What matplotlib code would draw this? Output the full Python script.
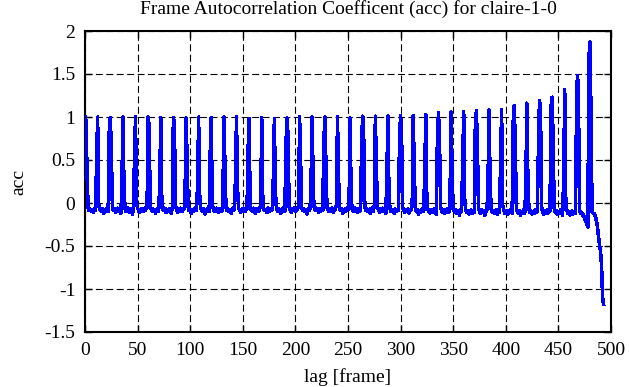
import numpy as np
import matplotlib
matplotlib.use("Agg")
import matplotlib.pyplot as plt

# ── Style ──────────────────────────────────────────────────────────────────
plt.rcParams["font.family"] = ["Liberation Serif", "DejaVu Serif"]
plt.rcParams["axes.unicode_minus"] = False
plt.rcParams["lines.scale_dashes"] = False

BLUE  = "#0000FF"
BLACK = "#000000"

TITLE  = "Frame Autocorrelation Coefficent (acc) for claire-1-0"
XLABEL = "lag [frame]"
YLABEL = "acc"

X_TICKS = [0, 50, 100, 150, 200, 250, 300, 350, 400, 450, 500]
Y_TICKS = [-1.5, -1, -0.5, 0, 0.5, 1, 1.5, 2]
Y_TICK_LABELS = ["-1.5", "-1", "-0.5", "0", "0.5", "1", "1.5", "2"]

# ── Data: acc per lag, one row per 12-frame period (row starts at the peak) ─
acc = [
    1.00, 0.95, 0.32, -0.06, -0.09, -0.07, -0.10, -0.08, -0.11, -0.07, -0.09, 0.49,
    1.00, -0.02, -0.08, -0.06, -0.10, -0.07, -0.12, -0.08, -0.09, -0.06, -0.10, 0.82,
    0.99, 0.65, -0.04, -0.09, -0.07, -0.11, -0.08, -0.06, -0.10, -0.08, -0.12, 0.14,
    1.00, 0.26, -0.07, -0.10, -0.08, -0.06, -0.11, -0.09, -0.07, -0.13, -0.08, 0.51,
    1.00, 0.00, -0.06, -0.09, -0.11, -0.07, -0.08, -0.10, -0.06, -0.09, -0.07, -0.05,
    1.00, 0.90, -0.04, -0.08, -0.10, -0.07, -0.09, -0.12, -0.08, -0.06, -0.10, 0.21,
    0.99, 0.05, -0.07, -0.09, -0.06, -0.11, -0.08, -0.10, -0.07, -0.09, -0.12, -0.05,
    0.99, 0.92, -0.03, -0.08, -0.11, -0.07, -0.09, -0.06, -0.10, -0.08, -0.07, -0.03,
    0.99, 0.57, -0.05, -0.09, -0.07, -0.12, -0.08, -0.10, -0.06, -0.09, -0.08, 0.21,
    1.00, 0.10, -0.06, -0.08, -0.10, -0.07, -0.13, -0.08, -0.09, -0.06, -0.10, 0.59,
    0.99, -0.02, -0.07, -0.10, -0.08, -0.06, -0.09, -0.11, -0.07, -0.08, -0.10, -0.04,
    1.00, 0.46, -0.05, -0.09, -0.07, -0.10, -0.08, -0.12, -0.06, -0.09, -0.08, 0.28,
    1.00, 0.17, -0.06, -0.08, -0.11, -0.07, -0.09, -0.06, -0.10, -0.08, -0.07, 0.61,
    0.98, -0.03, -0.08, -0.10, -0.06, -0.09, -0.12, -0.07, -0.08, -0.10, -0.06, -0.04,
    0.99, 0.05, -0.07, -0.09, -0.08, -0.11, -0.06, -0.10, -0.07, -0.09, -0.08, 0.29,
    0.98, 0.12, -0.06, -0.10, -0.07, -0.08, -0.12, -0.09, -0.06, -0.08, -0.10, 0.68,
    0.99, 0.79, -0.04, -0.08, -0.11, -0.07, -0.09, -0.06, -0.10, -0.08, -0.07, -0.04,
    1.00, 0.46, -0.06, -0.09, -0.07, -0.10, -0.08, -0.13, -0.07, -0.09, -0.06, 0.36,
    1.00, 0.10, -0.07, -0.09, -0.06, -0.08, -0.11, -0.07, -0.10, -0.08, -0.09, 0.70,
    1.00, 0.48, -0.05, -0.08, -0.10, -0.07, -0.09, -0.06, -0.11, -0.08, -0.07, -0.03,
    1.00, 0.30, -0.06, -0.09, -0.07, -0.12, -0.08, -0.10, -0.06, -0.09, -0.08, 0.00,
    0.99, 0.05, -0.07, -0.10, -0.08, -0.06, -0.09, -0.11, -0.07, -0.10, -0.08, 0.76,
    1.01, 0.73, -0.04, -0.09, -0.07, -0.10, -0.08, -0.12, -0.06, -0.09, -0.10, -0.03,
    1.01, 0.40, -0.06, -0.08, -0.11, -0.07, -0.09, -0.06, -0.10, -0.08, -0.12, 0.40,
    1.01, 0.05, -0.07, -0.10, -0.08, -0.09, -0.12, -0.07, -0.10, -0.08, -0.09, 0.77,
    1.02, 0.74, -0.05, -0.09, -0.11, -0.08, -0.10, -0.07, -0.12, -0.09, -0.08, -0.03,
    1.02, 0.39, -0.06, -0.10, -0.08, -0.13, -0.09, -0.11, -0.07, -0.10, -0.09, 0.43,
    1.03, -0.02, -0.08, -0.10, -0.12, -0.08, -0.09, -0.11, -0.07, -0.10, -0.13, 0.80,
    1.05, 0.74, -0.05, -0.09, -0.11, -0.08, -0.12, -0.10, -0.07, -0.09, -0.11, 0.10,
    1.06, 0.34, -0.07, -0.10, -0.08, -0.12, -0.09, -0.11, -0.14, -0.08, -0.10, 0.51,
    1.06, 0.02, -0.08, -0.11, -0.09, -0.13, -0.10, -0.08, -0.12, -0.09, -0.11, 0.90,
    1.07, 0.70, -0.06, -0.10, -0.12, -0.08, -0.11, -0.09, -0.14, -0.10, -0.08, 0.16,
    1.08, 0.35, -0.07, -0.11, -0.09, -0.12, -0.10, -0.08, -0.13, -0.09, -0.11, 0.45,
    1.09, -0.02, -0.08, -0.12, -0.10, -0.09, -0.13, -0.11, -0.08, -0.10, -0.12, 0.94,
    1.13, 0.70, -0.06, -0.10, -0.12, -0.09, -0.14, -0.10, -0.11, -0.08, -0.12, 0.19,
    1.16, 0.27, -0.07, -0.11, -0.09, -0.13, -0.10, -0.12, -0.08, -0.11, -0.10, 0.66,
    1.19, 1.09, -0.05, -0.10, -0.13, -0.09, -0.11, -0.08, -0.12, -0.10, -0.09, 1.12,
    1.23, 0.72, -0.06, -0.11, -0.09, -0.13, -0.10, -0.12, -0.08, -0.11, -0.14, 0.28,
    1.32, 0.05, -0.08, -0.12, -0.10, -0.14, -0.11, -0.09, -0.13, -0.10, -0.12, 0.82,
    1.48, 1.38, -0.08, -0.12, -0.11, -0.15, -0.14, -0.18, -0.21, -0.24, -0.28, 1.69,
    1.87, 1.03, -0.10, -0.12, -0.12, -0.15, -0.20, -0.27, -0.38, -0.48, -0.55, -0.72,
    -1.10, -1.18,
]
lag = np.arange(len(acc))

# ── Plot ───────────────────────────────────────────────────────────────────
fig = plt.figure(figsize=(6.29, 3.87), dpi=100, facecolor="white")
ax = fig.add_axes([85 / 629, 55 / 387, 526 / 629, 301 / 387])

ax.plot(lag, acc, color=BLUE, linewidth=1.8, antialiased=False, zorder=3)

ax.set_xlim(0, 500)
ax.set_ylim(-1.5, 2)
ax.set_xticks(X_TICKS)
ax.set_xticklabels([str(t) for t in X_TICKS])
ax.set_yticks(Y_TICKS)
ax.set_yticklabels(Y_TICK_LABELS)

ax.grid(True, color=BLACK, linestyle=(0, (5, 2.5)), linewidth=0.8, zorder=1)
ax.tick_params(direction="in", length=5, width=1, top=True, right=True,
               labelsize=14, pad=7, colors=BLACK)
for sp in ax.spines.values():
    sp.set_linewidth(1.5)
    sp.set_color(BLACK)

ax.set_title(TITLE, fontsize=14, pad=12)
ax.set_xlabel(XLABEL, fontsize=14, labelpad=7)
ax.set_ylabel(YLABEL, fontsize=14, labelpad=12)

fig.savefig("out.png", dpi=100, facecolor="white")
plt.close(fig)
